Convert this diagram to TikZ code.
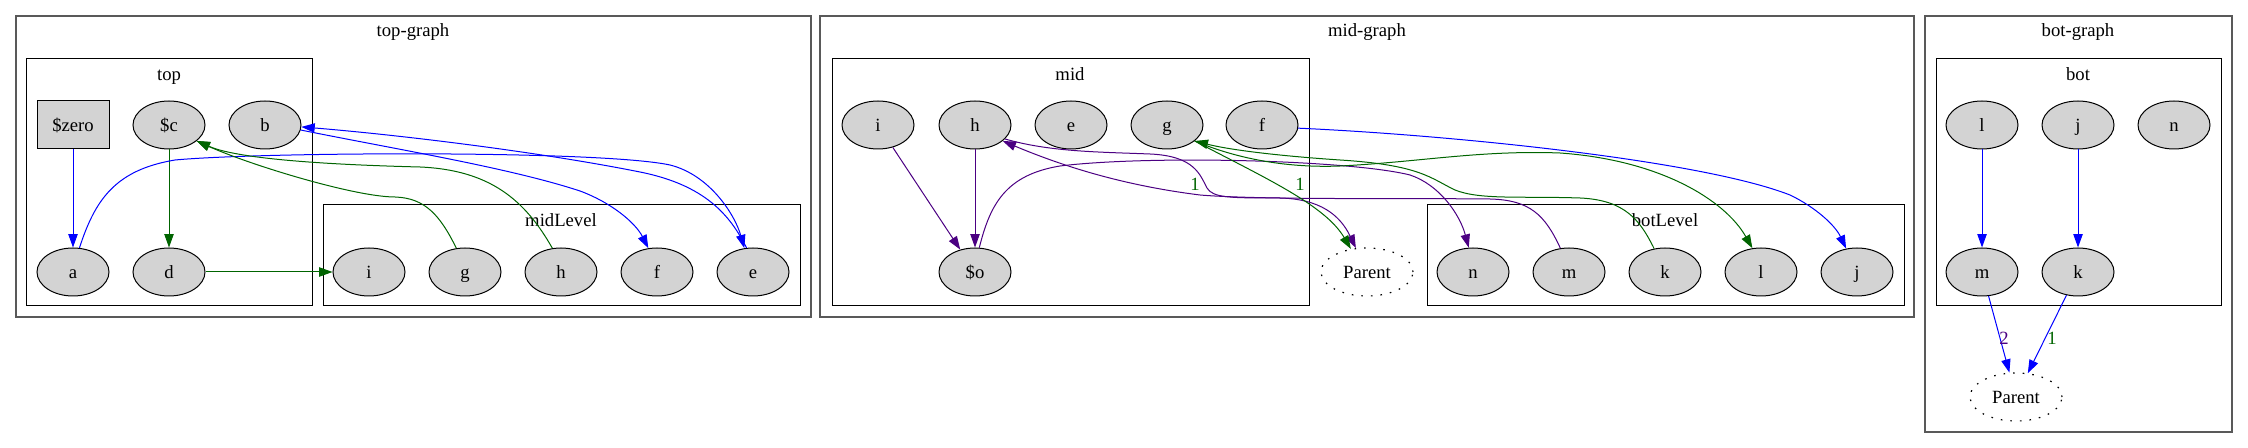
\documentclass[tikz,border=0pt]{standalone}
\usepackage{fontspec}
\setmainfont{Liberation Serif}
\usepackage{tikz}
\usetikzlibrary{arrows.meta, shapes.geometric}
\definecolor{eblue}{HTML}{0000FF}
\definecolor{egreen}{HTML}{006400}
\definecolor{epurple}{HTML}{4B0082}
\definecolor{nfill}{HTML}{D3D3D3}

\begin{document}
\begin{tikzpicture}[x=0.75pt, y=-0.75pt,
  font=\fontsize{14}{16}\selectfont,
  nd/.style  ={ellipse, draw, fill=nfill, line width=0.75pt, inner sep=0pt,
               minimum width=54pt, minimum height=36pt, text height=12pt, text depth=1.5pt},
  sq/.style  ={nd, rectangle},
  par/.style ={ellipse, draw, dash pattern=on 1.2pt off 6pt, line width=0.9pt, inner sep=0pt,
               minimum width=69pt, minimum height=36pt, text height=12pt, text depth=1.5pt},
  outer/.style={draw=black!65, line width=1pt},
  clu/.style ={draw, line width=0.75pt},
  ttl/.style ={anchor=base},
  lbl/.style ={anchor=base, inner sep=0pt},
  arr/.style ={-{Triangle[length=10pt,width=7pt]}, line width=0.75pt},
  eb/.style  ={arr, eblue},
  eg/.style  ={arr, egreen},
  ep/.style  ={arr, epurple}
]
\useasboundingbox (0,0) rectangle (2248,448);

% clusters
\draw[outer] (16,16) rectangle (811,317);
\draw[clu] (26,59) rectangle (312,306);
\draw[clu] (323,205) rectangle (800,306);
\draw[outer] (820,16) rectangle (1914,317);
\draw[clu] (832,59) rectangle (1309,306);
\draw[clu] (1427,205) rectangle (1904,306);
\draw[outer] (1925,16) rectangle (2232,432);
\draw[clu] (1936,59) rectangle (2221,306);

\node[ttl] (tgl) at (413,37)  {top-graph};
\node[ttl] (tl)  at (169,81)  {top};
\node[ttl] (mll) at (561,227) {midLevel};
\node[ttl] (mgl) at (1367,37) {mid-graph};
\node[ttl] (ml)  at (1070,81) {mid};
\node[ttl] (bll) at (1665,227) {botLevel};
\node[ttl] (bgl) at (2078,37) {bot-graph};
\node[ttl] (btl) at (2078,81) {bot};

% top-graph
\node[sq] (tzero) at (73,125)  {\$zero};
\node[nd] (tc)    at (169,125) {\$c};
\node[nd] (tb)    at (265,125) {b};
\node[nd] (ta)    at (73,272)  {a};
\node[nd] (td)    at (169,272) {d};
\node[nd] (mli) at (369,272) {i};
\node[nd] (mlg) at (465,272) {g};
\node[nd] (mlh) at (561,272) {h};
\node[nd] (mlf) at (657,272) {f};
\node[nd] (mle) at (753,272) {e};

% mid-graph
\node[nd] (mi) at (878,125)  {i};
\node[nd] (mh) at (975,125)  {h};
\node[nd] (me) at (1071,125) {e};
\node[nd] (mg) at (1167,125) {g};
\node[nd] (mf) at (1262,125) {f};
\node[nd] (mo) at (975,272)  {\$o};
\node[par] (mpar) at (1367,272) {Parent};
\node[nd] (bln) at (1473,272) {n};
\node[nd] (blm) at (1569,272) {m};
\node[nd] (blk) at (1665,272) {k};
\node[nd] (bll) at (1761,272) {l};
\node[nd] (blj) at (1857,272) {j};

% bot-graph
\node[nd] (bl) at (1982,125) {l};
\node[nd] (bj) at (2078,125) {j};
\node[nd] (bn) at (2174,125) {n};
\node[nd] (bm) at (1982,272) {m};
\node[nd] (bk) at (2078,272) {k};
\node[par] (bpar) at (2016,397) {Parent};

% edges, top-graph
\draw[eb] (tzero) -- (ta);
\draw[eg] (tc) -- (td);
\draw[eg] (td) -- (mli);
\draw[eb] (ta.75) .. controls (95,200) and (115,170) .. (175,160)
  .. controls (260,152) and (600,150) .. (670,165)
  .. controls (710,175) and (735,215) .. (mle.110);
\draw[eb] (tb.-8) .. controls (400,150) and (510,168) .. (580,191)
  .. controls (610,202) and (635,222) .. (mlf.110);
\draw[eb] (mle.105) .. controls (730,215) and (705,185) .. (640,172)
  .. controls (540,152) and (400,135) .. (tb.-3);
\draw[eg] (mlg.110) .. controls (440,215) and (425,198) .. (395,197)
  .. controls (355,197) and (250,165) .. (tc.-30);
\draw[eg] (mlh.110) .. controls (525,200) and (490,170) .. (420,167)
  .. controls (340,165) and (240,160) .. (tc.-30);

% edges, mid-graph
\draw[ep] (mi) -- (mo);
\draw[ep] (mh) -- (mo);
\draw[ep] (mo.80) .. controls (990,205) and (1005,175) .. (1060,166)
  .. controls (1150,155) and (1350,160) .. (1410,175)
  .. controls (1440,185) and (1460,215) .. (bln.100);
\draw[ep] (blm.110) .. controls (1545,215) and (1530,200) .. (1490,199)
  .. controls (1400,198) and (1260,200) .. (1200,195)
  .. controls (1120,185) and (1060,165) .. (mh.-30);
\draw[ep] (mh.-25) .. controls (1050,152) and (1100,152) .. (1150,154)
  .. controls (1195,156) and (1200,175) .. (1207,188)
  .. controls (1213,198) and (1230,198) .. (1280,198)
  .. controls (1320,199) and (1340,215) .. (mpar.115);
\draw[eg] (mg.-30) .. controls (1265,178) and (1325,205) .. (mpar.125);
\draw[eg] (blk.115) .. controls (1640,220) and (1625,200) .. (1580,198)
  .. controls (1520,196) and (1480,200) .. (1455,190)
  .. controls (1430,178) and (1420,165) .. (1340,160)
  .. controls (1280,156) and (1230,150) .. (mg.-30);
\draw[eg] (mg.-30) .. controls (1240,160) and (1290,168) .. (1340,166)
  .. controls (1420,162) and (1480,150) .. (1560,153)
  .. controls (1660,160) and (1725,200) .. (bll.110);
\draw[eb] (mf.-5) .. controls (1450,135) and (1700,160) .. (1790,195)
  .. controls (1815,207) and (1835,225) .. (blj.115);
\node[lbl, text=egreen] (lbh) at (1195,191) {1};
\node[lbl, text=egreen] (lbg) at (1300,191) {1};

% edges, bot-graph
\draw[eb] (bl) -- (bm);
\draw[eb] (bj) -- (bk);
\draw[eb] (bm) -- (bpar);
\draw[eb] (bk) -- (bpar);
\node[lbl, text=epurple] (lbm) at (2004,345) {2};
\node[lbl, text=egreen]  (lbk) at (2052,345) {1};
\end{tikzpicture}
\end{document}
